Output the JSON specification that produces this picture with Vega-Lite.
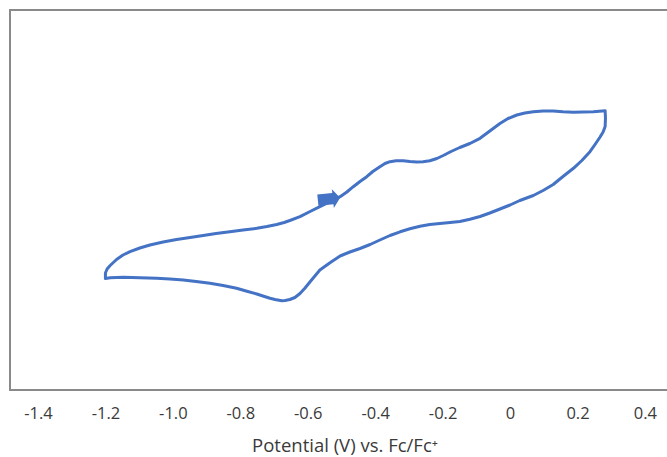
{
  "$schema": "https://vega.github.io/schema/vega-lite/v6.json",
  "width": 700,
  "height": 380,
  "autosize": {"type": "none"},
  "padding": {"left": 10, "top": 10, "right": -43, "bottom": 67},
  "background": "white",
  "config": {
    "font": "Open Sans",
    "view": {"stroke": "#8a8a8a", "strokeWidth": 2}
  },
  "datasets": {
    "cv": [
      {"i": 1, "E": -1.200, "I": -2.85},
      {"i": 2, "E": -1.200, "I": -2.30},
      {"i": 3, "E": -1.195, "I": -1.90},
      {"i": 4, "E": -1.186, "I": -1.55},
      {"i": 5, "E": -1.167, "I": -0.95},
      {"i": 6, "E": -1.148, "I": -0.50},
      {"i": 7, "E": -1.127, "I": -0.17},
      {"i": 8, "E": -1.098, "I": 0.20},
      {"i": 9, "E": -1.068, "I": 0.50},
      {"i": 10, "E": -1.029, "I": 0.80},
      {"i": 11, "E": -0.989, "I": 1.05},
      {"i": 12, "E": -0.949, "I": 1.25},
      {"i": 13, "E": -0.910, "I": 1.45},
      {"i": 14, "E": -0.872, "I": 1.65},
      {"i": 15, "E": -0.831, "I": 1.83},
      {"i": 16, "E": -0.792, "I": 2.00},
      {"i": 17, "E": -0.751, "I": 2.17},
      {"i": 18, "E": -0.721, "I": 2.35},
      {"i": 19, "E": -0.692, "I": 2.55},
      {"i": 20, "E": -0.670, "I": 2.75},
      {"i": 21, "E": -0.653, "I": 2.95},
      {"i": 22, "E": -0.623, "I": 3.33},
      {"i": 23, "E": -0.593, "I": 3.85},
      {"i": 24, "E": -0.564, "I": 4.33},
      {"i": 25, "E": -0.534, "I": 4.83},
      {"i": 26, "E": -0.504, "I": 5.33},
      {"i": 27, "E": -0.484, "I": 5.80},
      {"i": 28, "E": -0.465, "I": 6.33},
      {"i": 29, "E": -0.445, "I": 6.85},
      {"i": 30, "E": -0.425, "I": 7.33},
      {"i": 31, "E": -0.407, "I": 7.85},
      {"i": 32, "E": -0.386, "I": 8.33},
      {"i": 33, "E": -0.371, "I": 8.65},
      {"i": 34, "E": -0.356, "I": 8.83},
      {"i": 35, "E": -0.338, "I": 8.93},
      {"i": 36, "E": -0.317, "I": 8.93},
      {"i": 37, "E": -0.297, "I": 8.85},
      {"i": 38, "E": -0.277, "I": 8.80},
      {"i": 39, "E": -0.258, "I": 8.82},
      {"i": 40, "E": -0.238, "I": 8.93},
      {"i": 41, "E": -0.217, "I": 9.15},
      {"i": 42, "E": -0.198, "I": 9.45},
      {"i": 43, "E": -0.175, "I": 9.85},
      {"i": 44, "E": -0.149, "I": 10.25},
      {"i": 45, "E": -0.119, "I": 10.65},
      {"i": 46, "E": -0.089, "I": 11.17},
      {"i": 47, "E": -0.060, "I": 11.90},
      {"i": 48, "E": -0.030, "I": 12.65},
      {"i": 49, "E": -0.006, "I": 13.15},
      {"i": 50, "E": 0.020, "I": 13.50},
      {"i": 51, "E": 0.044, "I": 13.70},
      {"i": 52, "E": 0.069, "I": 13.83},
      {"i": 53, "E": 0.098, "I": 13.90},
      {"i": 54, "E": 0.128, "I": 13.90},
      {"i": 55, "E": 0.157, "I": 13.83},
      {"i": 56, "E": 0.188, "I": 13.78},
      {"i": 57, "E": 0.216, "I": 13.80},
      {"i": 58, "E": 0.247, "I": 13.83},
      {"i": 59, "E": 0.282, "I": 13.93},
      {"i": 60, "E": 0.283, "I": 13.20},
      {"i": 61, "E": 0.282, "I": 12.35},
      {"i": 62, "E": 0.276, "I": 11.80},
      {"i": 63, "E": 0.267, "I": 11.30},
      {"i": 64, "E": 0.252, "I": 10.55},
      {"i": 65, "E": 0.237, "I": 9.83},
      {"i": 66, "E": 0.213, "I": 8.95},
      {"i": 67, "E": 0.188, "I": 8.17},
      {"i": 68, "E": 0.157, "I": 7.35},
      {"i": 69, "E": 0.128, "I": 6.55},
      {"i": 70, "E": 0.098, "I": 5.95},
      {"i": 71, "E": 0.069, "I": 5.45},
      {"i": 72, "E": 0.029, "I": 4.95},
      {"i": 73, "E": 0.000, "I": 4.50},
      {"i": 74, "E": -0.030, "I": 4.10},
      {"i": 75, "E": -0.060, "I": 3.70},
      {"i": 76, "E": -0.089, "I": 3.35},
      {"i": 77, "E": -0.119, "I": 3.07},
      {"i": 78, "E": -0.149, "I": 2.85},
      {"i": 79, "E": -0.178, "I": 2.75},
      {"i": 80, "E": -0.208, "I": 2.65},
      {"i": 81, "E": -0.238, "I": 2.55},
      {"i": 82, "E": -0.267, "I": 2.37},
      {"i": 83, "E": -0.297, "I": 2.12},
      {"i": 84, "E": -0.326, "I": 1.82},
      {"i": 85, "E": -0.356, "I": 1.45},
      {"i": 86, "E": -0.386, "I": 1.00},
      {"i": 87, "E": -0.415, "I": 0.55},
      {"i": 88, "E": -0.445, "I": 0.15},
      {"i": 89, "E": -0.475, "I": -0.20},
      {"i": 90, "E": -0.504, "I": -0.60},
      {"i": 91, "E": -0.534, "I": -1.27},
      {"i": 92, "E": -0.564, "I": -2.00},
      {"i": 93, "E": -0.593, "I": -3.17},
      {"i": 94, "E": -0.608, "I": -3.80},
      {"i": 95, "E": -0.623, "I": -4.35},
      {"i": 96, "E": -0.638, "I": -4.75},
      {"i": 97, "E": -0.653, "I": -4.95},
      {"i": 98, "E": -0.667, "I": -5.05},
      {"i": 99, "E": -0.677, "I": -5.07},
      {"i": 100, "E": -0.697, "I": -4.95},
      {"i": 101, "E": -0.712, "I": -4.83},
      {"i": 102, "E": -0.733, "I": -4.60},
      {"i": 103, "E": -0.751, "I": -4.40},
      {"i": 104, "E": -0.783, "I": -4.10},
      {"i": 105, "E": -0.811, "I": -3.83},
      {"i": 106, "E": -0.851, "I": -3.55},
      {"i": 107, "E": -0.890, "I": -3.33},
      {"i": 108, "E": -0.931, "I": -3.15},
      {"i": 109, "E": -0.969, "I": -3.00},
      {"i": 110, "E": -1.009, "I": -2.90},
      {"i": 111, "E": -1.048, "I": -2.83},
      {"i": 112, "E": -1.098, "I": -2.78},
      {"i": 113, "E": -1.147, "I": -2.73},
      {"i": 114, "E": -1.186, "I": -2.78},
      {"i": 115, "E": -1.200, "I": -2.85}
    ],
    "arrow": [
      {"E": -0.537, "I": 5.1}
    ]
  },
  "layer": [
    {
      "data": {"name": "cv"},
      "mark": {"type": "line", "stroke": "#4472C4", "strokeWidth": 3, "strokeJoin": "round", "strokeCap": "round", "clip": false},
      "encoding": {
        "x": {
          "field": "E",
          "type": "quantitative",
          "scale": {"domain": [-1.483, 0.593], "nice": false, "zero": false},
          "axis": {
            "title": "Potential (V) vs. Fc/Fc⁺",
            "values": [-1.4, -1.2, -1.0, -0.8, -0.6, -0.4, -0.2, 0, 0.2, 0.4],
            "labelExpr": "datum.value == 0 ? '0' : (datum.value < 0 ? '-' : '') + format(abs(datum.value), '.1f')",
            "domain": false,
            "ticks": false,
            "grid": false,
            "labelFont": "Open Sans",
            "labelFontSize": 16.5,
            "labelColor": "#3a3a3a",
            "labelBaseline": "alphabetic",
            "labelPadding": 28,
            "labelFlush": false,
            "labelOverlap": false,
            "titleFont": "Open Sans",
            "titleFontSize": 18.5,
            "titleFontWeight": "normal",
            "titleColor": "#3a3a3a",
            "titleBaseline": "alphabetic",
            "titleAlign": "center",
            "titleAnchor": "start",
            "titleX": 334.5,
            "titleY": 61.5
          }
        },
        "y": {
          "field": "I",
          "type": "quantitative",
          "scale": {"domain": [-14, 24], "nice": false, "zero": false},
          "axis": null
        },
        "order": {"field": "i", "type": "quantitative"}
      }
    },
    {
      "data": {"name": "arrow"},
      "mark": {
        "type": "point",
        "filled": true,
        "shape": "M-1,-0.5L0.35,-0.5L0.35,-0.85L1,0L0.35,0.85L0.35,0.5L-1,0.5Z",
        "size": 500,
        "angle": -6,
        "fill": "#4472C4",
        "opacity": 1,
        "strokeWidth": 0
      },
      "encoding": {
        "x": {"field": "E", "type": "quantitative"},
        "y": {"field": "I", "type": "quantitative"}
      }
    }
  ]
}
